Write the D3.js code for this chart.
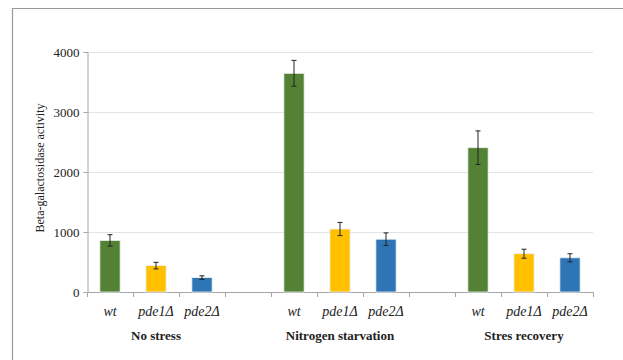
<!DOCTYPE html>
<html>
<head>
<meta charset="utf-8">
<script src="https://cdn.jsdelivr.net/npm/d3@7"></script>
<style>
  body { margin: 0; background: #fff; }
  svg { display: block; }
  svg text { font-family: "Liberation Serif", "DejaVu Serif", serif; fill: #222; }
</style>
</head>
<body>
<svg width="623" height="360"></svg>
<script>
// data
var groups = ["No stress", "Nitrogen starvation", "Stres recovery"]
var strains = ["wt", "pde1Δ", "pde2Δ"]
var colors = ["#548235", "#ffc000", "#2e75b6"]
var values = [
  [860, 440, 240],
  [3645, 1050, 880],
  [2405, 638, 570]
]
var errors = [
  [95, 55, 30],
  [215, 110, 105],
  [280, 75, 68]
]
var yTicks = [0, 1000, 2000, 3000, 4000]

var svg = d3.select("svg")

// frame
svg.append("path")
   .attr("d", "M12.5,360 L12.5,8.5 L623,8.5")
   .attr("fill", "none")
   .attr("stroke", "#9a9a9a")
   .attr("stroke-width", 1.2)

var plotL = 87, plotR = 593, plotT = 52, plotB = 292

// 11 slots: 3 bars per group plus an empty slot between groups
var slots = []
groups.forEach(function(g, gi) {
  strains.forEach(function(s, si) { slots.push(gi + "-" + si) })
  if (gi < groups.length - 1) slots.push("gap" + gi)
})

var x = d3.scaleBand().domain(slots).range([plotL, plotR]).padding(0)
var y = d3.scaleLinear().domain([0, 4000]).range([plotB, plotT])

// gridlines
svg.append("g")
   .selectAll("line")
   .data(yTicks.slice(1))
   .enter().append("line")
   .attr("x1", plotL).attr("x2", plotR)
   .attr("y1", d => y(d) + 0.5).attr("y2", d => y(d) + 0.5)
   .attr("stroke", "#e3e3e3")
   .attr("stroke-width", 1)

// y axis
var yAxis = svg.append("g")
   .attr("transform", "translate(" + (plotL + 0.5) + ",0)")
   .call(d3.axisLeft(y).tickValues(yTicks).tickSize(4).tickPadding(4).tickFormat(d3.format("d")))
yAxis.select(".domain").attr("stroke", "#a6a6a6")
yAxis.selectAll(".tick line").attr("stroke", "#a6a6a6")
yAxis.selectAll(".tick text").style("font-size", "13px").attr("fill", "#222")

// x axis (ticks at slot boundaries)
var bounds = slots.map(s => x(s)).concat([plotR])
svg.append("line")
   .attr("x1", plotL).attr("x2", plotR)
   .attr("y1", plotB + 0.5).attr("y2", plotB + 0.5)
   .attr("stroke", "#a6a6a6")
svg.append("g")
   .selectAll("line")
   .data(bounds)
   .enter().append("line")
   .attr("x1", d => Math.round(d) + 0.5).attr("x2", d => Math.round(d) + 0.5)
   .attr("y1", plotB).attr("y2", plotB + 5)
   .attr("stroke", "#a6a6a6")

// bars
var barW = x.bandwidth() * 0.44
var rows = []
groups.forEach(function(g, gi) {
  strains.forEach(function(s, si) {
    rows.push({ key: gi + "-" + si, strain: s, si: si, v: values[gi][si], e: errors[gi][si] })
  })
})

svg.append("g")
   .selectAll("rect")
   .data(rows)
   .enter().append("rect")
   .attr("x", d => x(d.key) + (x.bandwidth() - barW) / 2)
   .attr("y", d => y(d.v))
   .attr("width", barW)
   .attr("height", d => plotB - y(d.v))
   .attr("fill", d => colors[d.si])
   .attr("stroke", "#eef2f6")
   .attr("stroke-width", 0.8)

// error bars
var err = svg.append("g").attr("stroke", "#222").attr("stroke-width", 1)
rows.forEach(function(d) {
  var cx = x(d.key) + x.bandwidth() / 2
  err.append("line").attr("x1", cx).attr("x2", cx).attr("y1", y(d.v + d.e)).attr("y2", y(d.v - d.e))
  err.append("line").attr("x1", cx - 2.5).attr("x2", cx + 2.5).attr("y1", y(d.v + d.e)).attr("y2", y(d.v + d.e))
  err.append("line").attr("x1", cx - 2.5).attr("x2", cx + 2.5).attr("y1", y(d.v - d.e)).attr("y2", y(d.v - d.e))
})

// strain labels
svg.append("g")
   .selectAll("text")
   .data(rows)
   .enter().append("text")
   .attr("x", d => x(d.key) + x.bandwidth() / 2)
   .attr("y", 316)
   .attr("text-anchor", "middle")
   .style("font-size", "14px")
   .style("font-style", "italic")
   .attr("fill", "#333")
   .text(d => d.strain)

// group labels
svg.append("g")
   .selectAll("text")
   .data(groups)
   .enter().append("text")
   .attr("x", (d, i) => x(i + "-1") + x.bandwidth() / 2)
   .attr("y", 340)
   .attr("text-anchor", "middle")
   .style("font-size", "13px")
   .style("font-weight", "bold")
   .text(d => d)

// y title
svg.append("text")
   .attr("transform", "translate(44," + ((plotT + plotB) / 2 - 4) + ") rotate(-90)")
   .attr("text-anchor", "middle")
   .style("font-size", "12px")
   .attr("fill", "#333")
   .text("Beta-galactosidase  activity")
</script>
</body>
</html>
